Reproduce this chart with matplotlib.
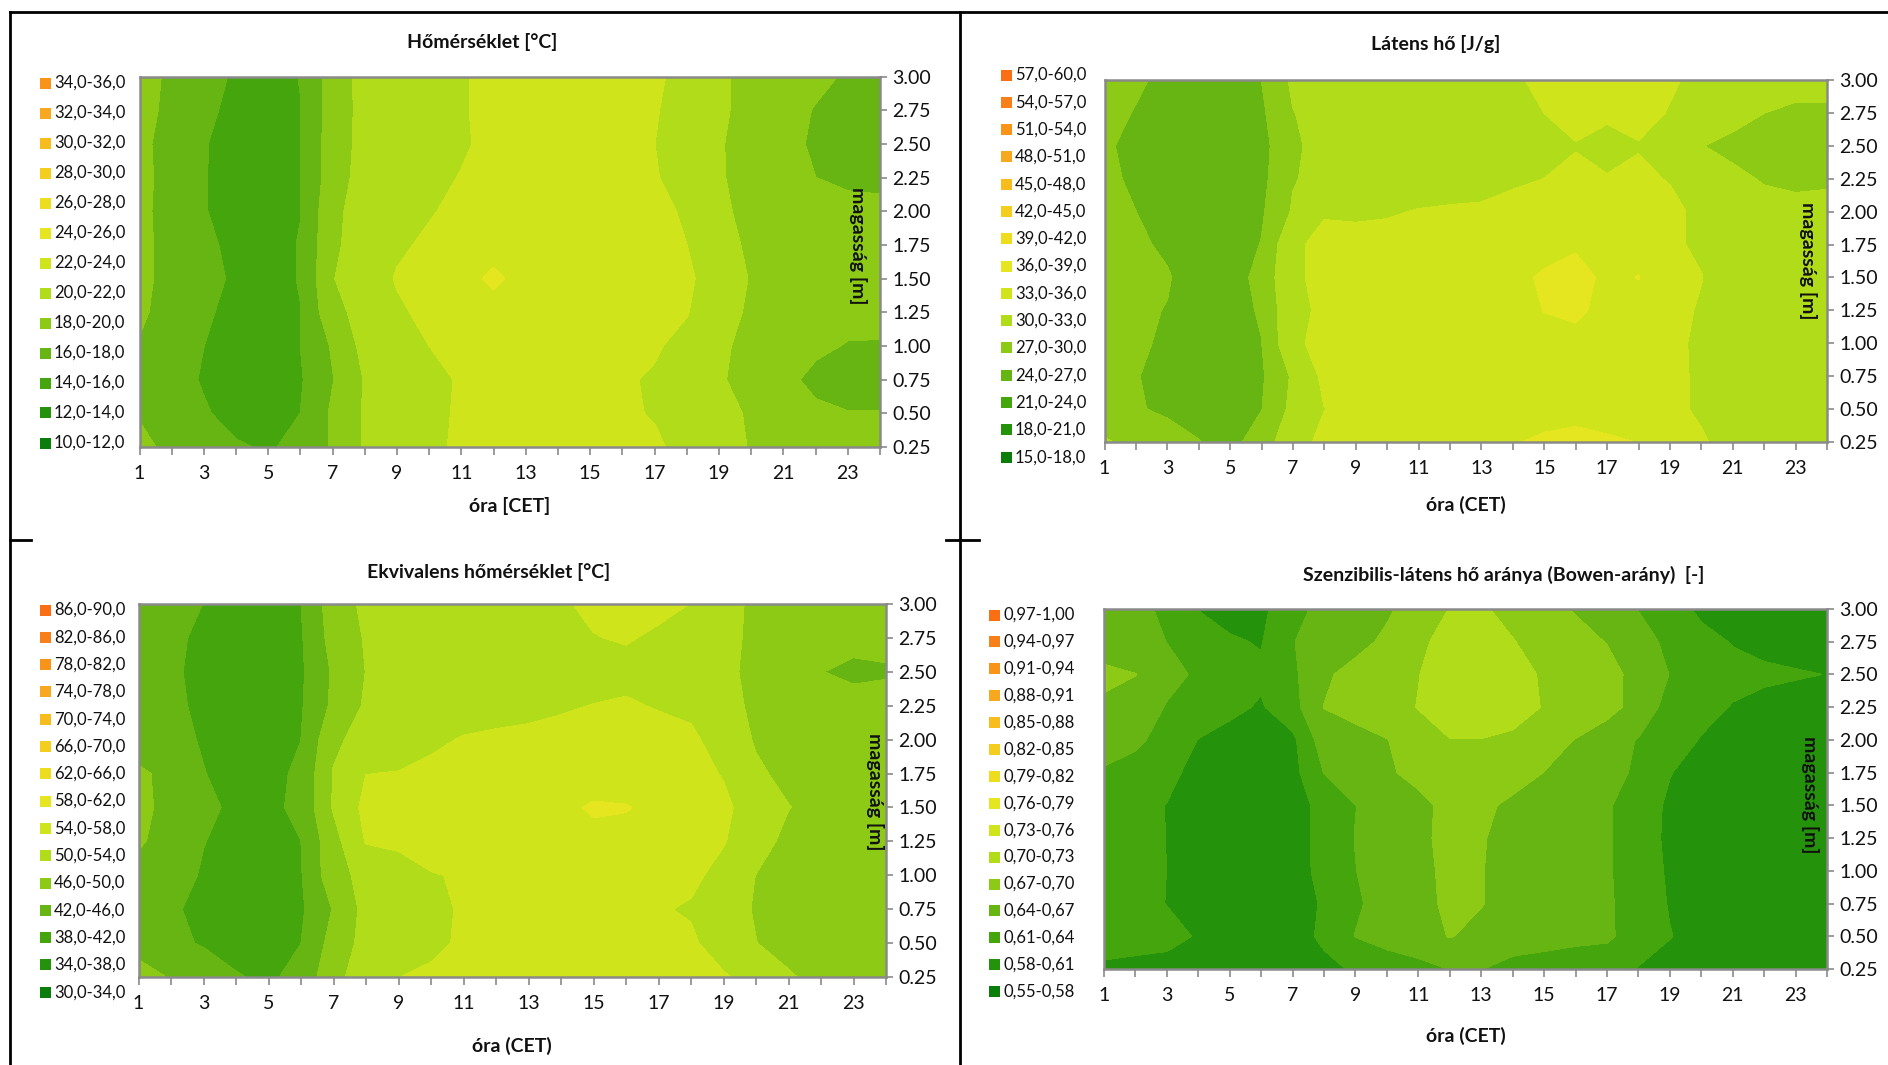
import numpy as np
import matplotlib
matplotlib.use("Agg")
import matplotlib.pyplot as plt
from matplotlib.patches import Rectangle
from matplotlib.lines import Line2D
from matplotlib.ticker import FormatStrFormatter

W, H = 1888, 1065
plt.rcParams['font.family'] = ['Lato', 'DejaVu Sans']

# --- grid: hour of day (CET) x measuring height [m] ---
hours = np.arange(1, 25)
heights = [0.25, 0.50, 0.75, 1.00, 1.25, 1.50, 1.75, 2.00, 2.25, 2.50, 2.75, 3.00]

# rows go from 0.25 m (first) to 3.00 m (last), columns are hours 1..24
temp = [
    [18.3, 17.7, 17.0, 16.2, 15.8, 16.5, 18.2, 20.2, 21.0, 21.6, 22.3, 22.6, 22.7, 22.7, 22.6, 22.4, 22.2, 21.6, 20.6, 19.9, 19.4, 19.2, 19.1, 19.0],
    [17.9, 17.0, 16.2, 15.3, 15.2, 16.0, 18.3, 20.2, 21.0, 21.6, 22.2, 22.5, 22.6, 22.5, 22.4, 22.2, 21.9, 21.3, 20.5, 19.8, 19.0, 18.3, 18.05, 18.05],
    [17.6, 16.8, 15.8, 15.1, 15.0, 15.8, 17.9, 20.1, 21.0, 21.7, 22.1, 22.4, 22.6, 22.6, 22.4, 22.2, 21.8, 21.1, 20.2, 19.3, 18.4, 17.6, 17.3, 17.3],
    [17.9, 17.2, 16.0, 15.2, 15.1, 16.0, 18.2, 20.6, 21.4, 22.0, 22.4, 22.8, 23.0, 23.0, 22.8, 22.6, 22.2, 21.4, 20.3, 19.5, 18.9, 18.3, 17.9, 17.9],
    [18.2, 17.5, 16.3, 15.4, 15.2, 15.95, 19.4, 20.7, 21.8, 22.3, 22.8, 23.8, 23.2, 23.0, 22.9, 22.8, 22.6, 22.1, 20.5, 19.8, 19.1, 18.7, 18.5, 18.4],
    [18.3, 17.6, 16.8, 15.6, 15.3, 16.1, 19.9, 21.2, 22.1, 22.6, 23.8, 24.1, 23.8, 23.3, 23.2, 23.0, 22.8, 22.4, 20.8, 19.9, 19.3, 19.0, 18.8, 18.7],
    [18.3, 17.6, 16.5, 15.4, 15.3, 16.1, 19.6, 21.0, 21.8, 22.2, 22.6, 23.8, 23.2, 23.1, 23.0, 22.8, 22.5, 22.0, 20.4, 19.8, 19.2, 18.8, 18.6, 18.5],
    [18.3, 17.5, 16.1, 15.2, 15.1, 15.95, 19.5, 20.9, 21.5, 21.9, 22.3, 22.6, 22.8, 23.0, 22.9, 22.7, 22.4, 21.8, 20.2, 19.7, 19.0, 18.6, 18.3, 18.2],
    [18.3, 17.6, 16.1, 15.2, 15.1, 15.97, 19.0, 20.8, 21.3, 21.7, 22.05, 22.4, 22.7, 22.9, 22.8, 22.5, 22.1, 21.4, 20.1, 19.6, 18.8, 18.0, 17.8, 17.8],
    [18.3, 17.5, 16.1, 15.3, 15.2, 15.95, 19.0, 20.6, 21.1, 21.5, 21.85, 22.3, 22.6, 22.8, 22.7, 22.4, 22.0, 21.3, 20.1, 19.5, 18.6, 17.7, 17.4, 17.3],
    [18.4, 17.7, 16.4, 15.5, 15.3, 15.95, 18.9, 20.6, 21.2, 21.5, 21.9, 22.3, 22.6, 22.8, 22.8, 22.6, 22.1, 21.4, 20.2, 19.6, 18.6, 17.9, 17.5, 17.2],
    [18.4, 17.8, 16.8, 15.7, 15.4, 16.05, 18.8, 20.7, 21.2, 21.6, 21.9, 22.3, 22.6, 22.8, 22.8, 22.6, 22.2, 21.6, 20.2, 19.6, 19.0, 18.4, 17.8, 17.2],
]

latent = [
    [30.3, 29.2, 28.0, 27.1, 26.0, 28.5, 32.0, 33.6, 34.0, 34.3, 34.6, 34.9, 35.2, 35.8, 36.4, 36.6, 36.3, 35.95, 34.8, 33.3, 32.0, 31.3, 31.0, 30.9],
    [28.0, 27.2, 26.6, 25.8, 25.6, 26.9, 30.8, 32.95, 33.5, 33.7, 33.8, 34.0, 34.2, 34.4, 35.0, 35.3, 35.0, 34.6, 33.6, 32.6, 31.8, 31.1, 30.8, 30.7],
    [27.9, 27.1, 26.3, 25.5, 25.4, 26.6, 30.4, 33.6, 33.5, 33.7, 33.8, 34.0, 34.2, 34.4, 34.8, 35.0, 34.8, 34.5, 33.6, 32.6, 31.7, 31.0, 30.7, 30.6],
    [28.0, 27.3, 26.7, 25.7, 25.5, 26.9, 32.6, 33.6, 33.6, 33.8, 33.9, 34.1, 34.3, 34.6, 35.2, 35.5, 35.2, 34.9, 33.5, 32.6, 31.8, 31.0, 30.7, 30.6],
    [28.1, 27.4, 26.9, 25.6, 25.5, 27.4, 32.4, 33.4, 33.7, 33.9, 34.1, 34.3, 34.5, 35.0, 36.05, 36.3, 35.5, 35.3, 33.6, 32.8, 31.9, 31.0, 30.7, 30.6],
    [28.2, 27.6, 27.2, 25.6, 25.5, 28.0, 32.6, 33.6, 33.8, 34.0, 34.2, 34.4, 34.6, 35.2, 36.4, 36.8, 35.5, 36.05, 34.2, 33.05, 31.8, 31.0, 30.7, 30.6],
    [28.0, 27.4, 26.6, 25.5, 25.4, 27.1, 32.6, 33.6, 33.6, 33.7, 33.8, 33.9, 34.0, 34.3, 34.8, 35.7, 35.0, 35.3, 33.3, 32.7, 31.8, 31.0, 30.7, 30.6],
    [27.6, 27.0, 26.0, 25.3, 25.2, 26.6, 30.3, 32.8, 32.7, 32.8, 33.1, 33.2, 33.2, 33.4, 33.6, 33.7, 33.6, 33.6, 33.4, 32.6, 31.6, 30.8, 30.4, 30.4],
    [27.5, 26.6, 25.7, 25.2, 25.3, 26.2, 29.8, 30.9, 31.3, 31.6, 31.9, 32.2, 32.5, 32.8, 33.0, 33.4, 33.05, 33.3, 32.9, 31.8, 30.5, 29.8, 29.7, 29.8],
    [27.3, 26.4, 25.8, 25.2, 25.3, 26.0, 29.5, 31.0, 31.4, 31.7, 31.9, 32.1, 32.3, 32.4, 32.5, 32.9, 32.7, 32.9, 32.3, 30.05, 29.4, 29.0, 28.9, 29.1],
    [28.0, 26.8, 26.0, 25.3, 25.4, 26.5, 29.9, 31.0, 31.4, 31.7, 31.9, 32.1, 32.4, 32.6, 33.0, 33.6, 33.15, 33.5, 32.9, 32.0, 30.8, 30.0, 29.6, 29.7],
    [28.5, 27.5, 26.2, 25.5, 25.6, 27.0, 30.5, 31.2, 31.5, 31.8, 32.0, 32.3, 32.6, 32.8, 33.3, 33.6, 33.6, 33.5, 33.2, 32.6, 31.8, 31.2, 30.8, 30.6],
]

equiv = [
    [47.5, 45.7, 44.5, 42.3, 41.2, 43.5, 48.5, 52.5, 53.95, 54.6, 55.0, 55.3, 55.5, 55.6, 55.6, 55.5, 55.3, 55.0, 54.4, 52.5, 50.4, 48.8, 48.0, 47.7],
    [44.5, 43.0, 41.6, 40.5, 40.3, 41.95, 47.5, 51.3, 52.0, 53.2, 54.5, 54.8, 55.0, 55.0, 55.0, 54.9, 54.7, 54.6, 52.0, 50.05, 48.6, 47.6, 47.1, 47.0],
    [44.0, 42.4, 41.2, 40.1, 39.9, 41.4, 46.2, 51.2, 51.6, 53.0, 54.4, 54.8, 55.0, 55.0, 54.9, 54.6, 54.3, 53.6, 51.5, 49.7, 48.2, 47.3, 46.9, 46.8],
    [45.0, 43.6, 41.6, 40.4, 40.2, 41.7, 48.5, 51.2, 52.0, 53.8, 54.3, 54.7, 55.0, 55.2, 55.3, 55.3, 55.1, 54.8, 52.8, 49.9, 48.6, 47.8, 47.5, 47.4],
    [46.3, 45.0, 42.1, 40.8, 40.6, 41.95, 48.6, 54.2, 54.8, 55.4, 55.8, 56.0, 56.2, 56.5, 56.8, 56.8, 56.4, 55.8, 54.2, 51.8, 48.8, 48.5, 48.1, 48.0],
    [47.0, 44.8, 42.9, 41.2, 41.0, 43.0, 50.3, 55.0, 55.5, 55.8, 56.0, 56.2, 56.5, 57.0, 58.5, 58.2, 57.0, 56.0, 54.6, 52.5, 50.1, 48.8, 48.2, 48.0],
    [46.6, 45.0, 42.1, 40.8, 40.7, 42.8, 50.2, 53.95, 54.1, 54.7, 55.0, 55.2, 55.4, 55.5, 55.7, 55.9, 55.6, 55.0, 53.8, 50.6, 49.0, 48.3, 47.8, 47.6],
    [44.0, 43.0, 41.7, 40.5, 40.3, 41.95, 49.2, 51.5, 52.6, 53.4, 54.2, 54.5, 54.6, 54.8, 55.0, 55.2, 55.0, 54.6, 52.5, 49.6, 48.5, 47.5, 47.2, 47.1],
    [43.8, 42.5, 41.5, 40.3, 40.1, 41.6, 46.8, 50.5, 51.7, 52.1, 52.5, 52.9, 53.3, 53.7, 54.05, 54.3, 53.8, 53.3, 51.0, 49.4, 48.0, 47.3, 47.0, 47.0],
    [43.8, 42.4, 41.3, 40.2, 40.0, 41.4, 46.5, 50.05, 51.4, 51.8, 52.1, 52.4, 52.7, 53.0, 53.1, 53.2, 52.9, 52.5, 50.6, 49.3, 47.8, 46.05, 45.4, 45.7],
    [44.0, 42.6, 41.4, 40.3, 40.1, 41.6, 47.5, 50.3, 51.3, 51.7, 52.1, 52.5, 52.9, 53.4, 53.9, 54.2, 53.6, 53.0, 50.9, 49.3, 48.0, 47.2, 46.8, 46.8],
    [44.2, 43.2, 41.95, 40.5, 40.2, 41.95, 48.0, 50.8, 51.3, 51.7, 52.2, 52.6, 53.0, 53.7, 54.5, 55.0, 54.6, 53.95, 51.0, 49.4, 48.5, 47.8, 47.3, 47.0],
]

bowen = [
    [0.606, 0.605, 0.604, 0.600, 0.596, 0.594, 0.596, 0.603, 0.613, 0.625, 0.630, 0.6405, 0.6405, 0.630, 0.628, 0.626, 0.624, 0.608, 0.599, 0.595, 0.594, 0.593, 0.593, 0.593],
    [0.620, 0.617, 0.615, 0.6085, 0.596, 0.594, 0.598, 0.615, 0.6405, 0.650, 0.660, 0.671, 0.663, 0.655, 0.650, 0.646, 0.644, 0.628, 0.611, 0.599, 0.595, 0.594, 0.594, 0.594],
    [0.620, 0.616, 0.6095, 0.600, 0.594, 0.593, 0.597, 0.613, 0.637, 0.648, 0.660, 0.676, 0.671, 0.660, 0.654, 0.649, 0.644, 0.626, 0.608, 0.598, 0.594, 0.593, 0.593, 0.593],
    [0.622, 0.618, 0.6098, 0.599, 0.594, 0.593, 0.598, 0.618, 0.6395, 0.650, 0.660, 0.678, 0.671, 0.660, 0.655, 0.650, 0.643, 0.625, 0.606, 0.597, 0.594, 0.593, 0.593, 0.593],
    [0.623, 0.619, 0.6095, 0.599, 0.594, 0.593, 0.598, 0.619, 0.6405, 0.652, 0.662, 0.680, 0.672, 0.660, 0.655, 0.650, 0.643, 0.624, 0.604, 0.596, 0.593, 0.592, 0.592, 0.592],
    [0.625, 0.620, 0.609, 0.598, 0.594, 0.594, 0.599, 0.618, 0.6395, 0.650, 0.662, 0.678, 0.675, 0.665, 0.658, 0.650, 0.643, 0.625, 0.605, 0.596, 0.593, 0.592, 0.592, 0.592],
    [0.636, 0.630, 0.618, 0.600, 0.595, 0.594, 0.600, 0.6405, 0.655, 0.666, 0.678, 0.685, 0.688, 0.680, 0.6695, 0.660, 0.648, 0.636, 0.611, 0.598, 0.593, 0.592, 0.592, 0.592],
    [0.655, 0.645, 0.630, 0.609, 0.601, 0.599, 0.603, 0.655, 0.660, 0.669, 0.685, 0.699, 0.699, 0.694, 0.680, 0.669, 0.655, 0.638, 0.625, 0.608, 0.600, 0.598, 0.597, 0.597],
    [0.665, 0.656, 0.638, 0.628, 0.616, 0.607, 0.629, 0.6705, 0.680, 0.688, 0.701, 0.716, 0.720, 0.713, 0.698, 0.688, 0.679, 0.660, 0.628, 0.620, 0.608, 0.602, 0.600, 0.600],
    [0.676, 0.6705, 0.648, 0.636, 0.622, 0.615, 0.634, 0.665, 0.680, 0.688, 0.699, 0.715, 0.720, 0.712, 0.696, 0.686, 0.678, 0.662, 0.639, 0.626, 0.620, 0.615, 0.612, 0.6095],
    [0.656, 0.650, 0.6395, 0.625, 0.613, 0.608, 0.639, 0.650, 0.660, 0.676, 0.694, 0.710, 0.715, 0.701, 0.690, 0.678, 0.669, 0.650, 0.634, 0.620, 0.608, 0.602, 0.600, 0.600],
    [0.655, 0.648, 0.634, 0.609, 0.600, 0.602, 0.633, 0.646, 0.655, 0.665, 0.685, 0.7005, 0.703, 0.692, 0.678, 0.668, 0.655, 0.639, 0.625, 0.603, 0.598, 0.596, 0.595, 0.595],
]

# class limits shown in the legends
temp_levels = [10, 12, 14, 16, 18, 20, 22, 24, 26, 28, 30, 32, 34, 36]
latent_levels = [15, 18, 21, 24, 27, 30, 33, 36, 39, 42, 45, 48, 51, 54, 57, 60]
equiv_levels = [30, 34, 38, 42, 46, 50, 54, 58, 62, 66, 70, 74, 78, 82, 86, 90]
bowen_levels = [0.55, 0.58, 0.61, 0.64, 0.67, 0.70, 0.73, 0.76, 0.79, 0.82, 0.85, 0.88, 0.91, 0.94, 0.97, 1.00]

# green -> yellow -> orange class colours
palette = ['#0a7d0a', '#24920a', '#44a60c', '#66b512', '#8cca16', '#b0dc1a', '#d0e41c',
           '#e5e620', '#eedc1e', '#f4ce1e', '#f7bc1e', '#f8a81e', '#f8941a', '#f8801a', '#fa6e14']

GRAY = '#8a8a8a'
INK = '#111111'


def fig_box(x0, y0, x1, y1):
    # pixel box measured from the top-left corner -> figure fraction
    return [x0 / W, 1 - y1 / H, (x1 - x0) / W, (y1 - y0) / H]


def fx(x):
    return x / W


def fy(y):
    return 1 - y / H


def panel(fig, box, z, levels, fmt, title, title_xy, xlabel, xlabel_y, ylab_xy, legend):
    ax = fig.add_axes(fig_box(*box))
    cols = palette[:len(levels) - 1]
    cs = ax.contourf(hours, heights, np.array(z), levels=levels, colors=cols)
    cs.set_edgecolor('face')
    cs.set_linewidth(0.5)

    ax.set_xlim(1, 24)
    ax.set_ylim(0.25, 3.0)
    ax.set_xticks(hours)
    ax.set_xticklabels([str(h) if (h % 2 == 1 and h < 24) else '' for h in hours])
    ax.yaxis.tick_right()
    ax.set_yticks(heights)
    ax.yaxis.set_major_formatter(FormatStrFormatter('%.2f'))
    ax.tick_params(axis='x', direction='out', length=6, width=1.2, color=GRAY,
                   labelsize=14, labelcolor=INK, pad=7)
    ax.tick_params(axis='y', direction='out', length=5, width=1.2, color=GRAY,
                   labelsize=14, labelcolor=INK, pad=4)
    for s in ax.spines.values():
        s.set_color(GRAY)
        s.set_linewidth(1.8)

    fig.text(fx(title_xy[0]), fy(title_xy[1]), title, ha='center', va='center',
             fontsize=14, fontweight='bold', color=INK)
    xc = (box[0] + box[2]) / 2
    fig.text(fx(xc), fy(xlabel_y), xlabel, ha='center', va='center',
             fontsize=14, fontweight='bold', color=INK)
    fig.text(fx(ylab_xy[0]), fy(ylab_xy[1]), 'magasság [m]', ha='center', va='center',
             rotation=270, fontsize=14, fontweight='bold', color=INK)

    # legend: highest class on top
    lx, ly0, dy = legend
    n = len(levels) - 1
    for k in range(n):
        i = n - 1 - k
        lo, hi = levels[i], levels[i + 1]
        lab = (fmt % lo + '-' + fmt % hi).replace('.', ',')
        y = ly0 + k * dy
        fig.add_artist(Rectangle((fx(lx), fy(y + 5.5)), 11 / W, 11 / H,
                                 transform=fig.transFigure, facecolor=cols[i], edgecolor='none'))
        fig.text(fx(lx + 14), fy(y), lab, ha='left', va='center', fontsize=12, color=INK)
    return ax


fig = plt.figure(figsize=(W / 100, H / 100), dpi=100)
fig.patch.set_facecolor('white')

panel(fig, (139.5, 76.5, 880, 447), temp, temp_levels, '%.1f',
      'Hőmérséklet [°C]', (482, 42), 'óra [CET]', 506, (858, 246), (40, 83, 30))
panel(fig, (1104.5, 80, 1827, 442), latent, latent_levels, '%.1f',
      'Látens hő [J/g]', (1436, 44), 'óra (CET)', 505, (1808, 261), (1001, 75, 27.3))
panel(fig, (138.5, 604, 886, 977), equiv, equiv_levels, '%.1f',
      'Ekvivalens hőmérséklet [°C]', (489, 572), 'óra (CET)', 1046, (875, 792), (40, 610, 27.3))
panel(fig, (1104, 609, 1827, 969), bowen, bowen_levels, '%.2f',
      'Szenzibilis-látens hő aránya (Bowen-arány)  [-]', (1504, 575), 'óra (CET)', 1036,
      (1810, 795), (989, 615, 26.9))

# frame lines around the chart grid
for xs, ys in [((10, 10), (12, H)), ((10, W), (12, 12)), ((960, 960), (12, H)),
               ((10, 31), (540, 540)), ((946, 979), (540, 540))]:
    fig.add_artist(Line2D([fx(xs[0]), fx(xs[1])], [fy(ys[0]), fy(ys[1])],
                          transform=fig.transFigure, color='black', lw=2))

fig.savefig('out.png', dpi=100)
